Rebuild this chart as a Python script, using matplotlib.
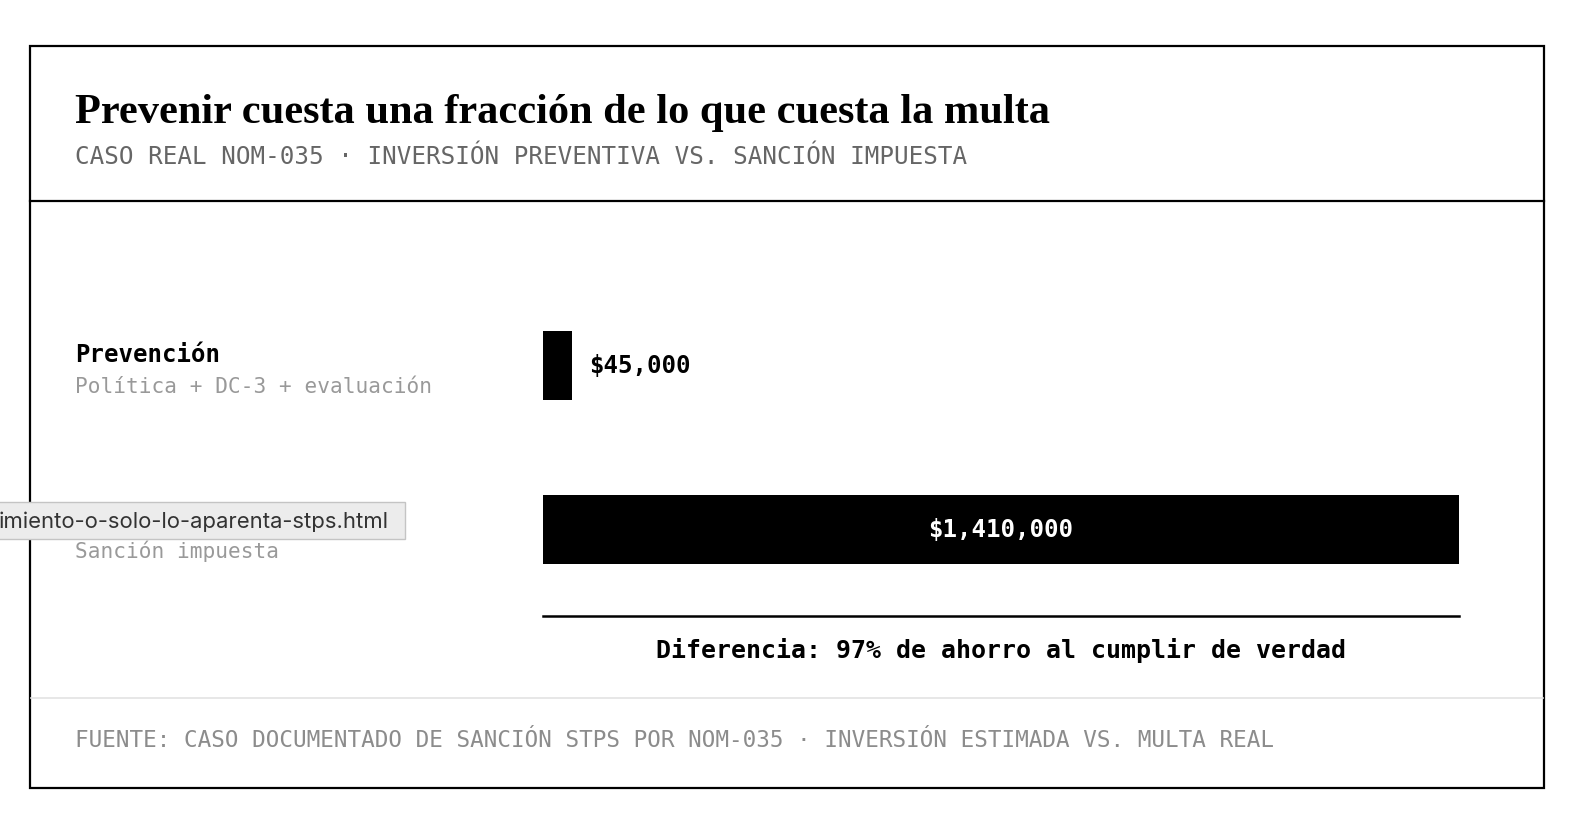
"""Prevention cost vs. STPS fine, NOM-035 case."""

import matplotlib
matplotlib.use("Agg")
import matplotlib.pyplot as plt
from matplotlib.patches import Rectangle

# data
categories = ["Prevención", "Multa STPS"]
subtitles = ["Política + DC-3 + evaluación", "Sanción impuesta"]
amounts = [45000, 1410000]
value_labels = ["$45,000", "$1,410,000"]

title = "Prevenir cuesta una fracción de lo que cuesta la multa"
subtitle = "CASO REAL NOM-035 · INVERSIÓN PREVENTIVA VS. SANCIÓN IMPUESTA"
diff_note = "Diferencia: 97% de ahorro al cumplir de verdad"
source = ("FUENTE: CASO DOCUMENTADO DE SANCIÓN STPS POR NOM-035 · "
          "INVERSIÓN ESTIMADA VS. MULTA REAL")
tooltip = "imiento-o-solo-lo-aparenta-stps.html"

W, H = 1588, 820
MONO = ["DejaVu Sans Mono"]
SERIF = ["Liberation Serif", "DejaVu Serif"]

fig = plt.figure(figsize=(W / 100, H / 100), dpi=100)
fig.patch.set_facecolor("white")

# background layer in pixel coordinates (origin top-left)
bg = fig.add_axes([0, 0, 1, 1])
bg.set_xlim(0, W)
bg.set_ylim(H, 0)
bg.axis("off")

# outer frame and separators
bg.add_patch(Rectangle((30, 47), 1514, 742, fill=False, edgecolor="black", lw=1.6))
bg.plot([30, 1544], [202, 202], color="black", lw=1.6)
bg.plot([31, 1543], [699, 699], color="#e3e3e3", lw=1.2)

bg.text(75, 123, title, family=SERIF, fontsize=30.5, fontweight="bold",
        color="black", va="baseline")
bg.text(75, 157, subtitle, family=MONO, fontsize=17.5, color="#666666",
        va="center")

# bar panel
x0, x1 = 543, 1459
y_top, y_bot = 300, 600
ax = fig.add_axes([x0 / W, 1 - y_bot / H, (x1 - x0) / W, (y_bot - y_top) / H])
ax.set_xlim(0, max(amounts))
step = 164
ax.set_ylim(1 + (y_bot - 530) / step, -(366 - y_top) / step)
ax.axis("off")

ypos = range(len(categories))
ax.barh(ypos, amounts, height=69 / step, color="black")

for i, (amt, lab) in enumerate(zip(amounts, value_labels)):
    if amt / max(amounts) > 0.2:
        ax.text(amt / 2, i, lab, ha="center", va="center", color="white",
                family=MONO, fontsize=17.3, fontweight="bold")
    else:
        ax.annotate(lab, (amt, i), xytext=(12, 0), textcoords="offset points",
                    ha="left", va="center", color="black",
                    family=MONO, fontsize=17.3, fontweight="bold")

# row labels (the second bold label sits under the browser tooltip)
row_y = [366, 530]
for i, (cat, sub, yy) in enumerate(zip(categories, subtitles, row_y)):
    if i == 0:
        bg.text(75, yy - 11, cat, family=MONO, fontsize=17.3,
                fontweight="bold", color="black", va="center")
    bg.text(75, yy + 21, sub, family=MONO, fontsize=15.2, color="#999999",
            va="center")

# difference rule and note
bg.plot([x0, x1], [617, 617], color="black", lw=1.8)
bg.text((x0 + x1) / 2, 651, diff_note, family=MONO, fontsize=17.9,
        fontweight="bold", color="black", ha="center", va="center")

bg.text(75, 741, source, family=MONO, fontsize=16.3, color="#8c8c8c",
        va="center")

# browser tooltip overlapping the second row
tip = fig.add_axes([0, 0, 1, 1], zorder=5)
tip.set_xlim(0, W)
tip.set_ylim(H, 0)
tip.axis("off")
tip.add_patch(Rectangle((-5, 503), 410, 37, facecolor="#ececec",
                        edgecolor="#c4c4c4", lw=1))
tip.text(389, 522, tooltip, family=["Inter", "DejaVu Sans"], fontsize=15.9,
         color="#333333", ha="right", va="center")

fig.savefig("out.png", dpi=100, facecolor="white")
print("Saved to out.png")
